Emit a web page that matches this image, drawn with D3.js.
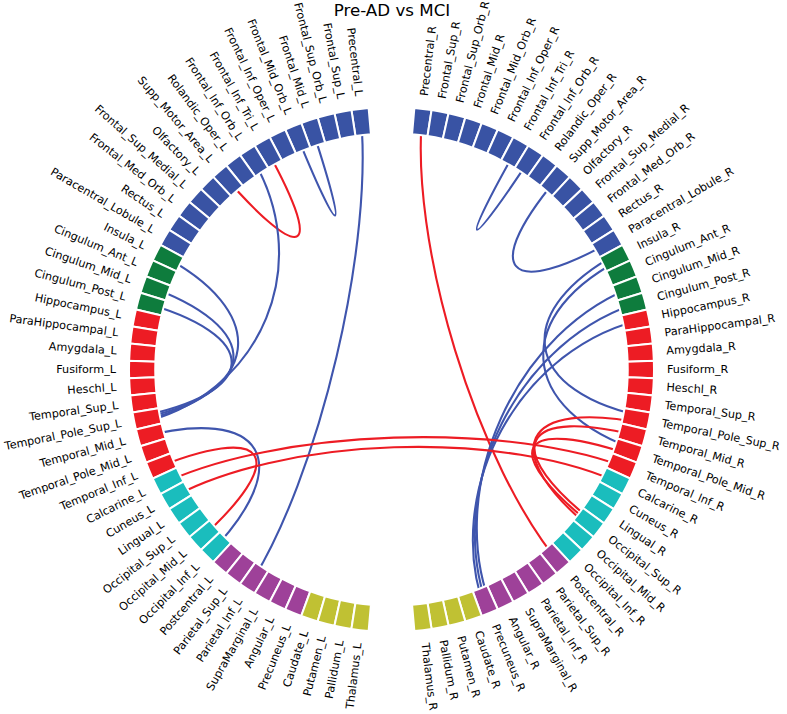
<!DOCTYPE html>
<html><head><meta charset="utf-8">
<script src="https://cdn.jsdelivr.net/npm/d3@7"></script>
<style>
body{margin:0;background:#fff;}
svg text{font-family:"DejaVu Sans",sans-serif;}
</style></head>
<body><svg id="chart" width="787" height="714"></svg>
<script>
// ---------- data ----------
const title = "Pre-AD vs MCI";
const regions = ["Precentral","Frontal_Sup","Frontal_Sup_Orb","Frontal_Mid","Frontal_Mid_Orb",
 "Frontal_Inf_Oper","Frontal_Inf_Tri","Frontal_Inf_Orb","Rolandic_Oper","Supp_Motor_Area",
 "Olfactory","Frontal_Sup_Medial","Frontal_Med_Orb","Rectus","Paracentral_Lobule",
 "Insula","Cingulum_Ant","Cingulum_Mid","Cingulum_Post",
 "Hippocampus","ParaHippocampal","Amygdala","Fusiform","Heschl","Temporal_Sup",
 "Temporal_Pole_Sup","Temporal_Mid","Temporal_Pole_Mid","Temporal_Inf",
 "Calcarine","Cuneus","Lingual","Occipital_Sup","Occipital_Mid","Occipital_Inf",
 "Postcentral","Parietal_Sup","Parietal_Inf","SupraMarginal","Angular","Precuneus",
 "Caudate","Putamen","Pallidum","Thalamus"];
const regionGroups = ["frontal","frontal","frontal","frontal","frontal","frontal","frontal","frontal",
 "frontal","frontal","frontal","frontal","frontal","frontal","frontal",
 "limbic","limbic","limbic","limbic",
 "temporal","temporal","temporal","temporal","temporal","temporal","temporal","temporal","temporal","temporal",
 "occipital","occipital","occipital","occipital","occipital","occipital",
 "parietal","parietal","parietal","parietal","parietal","parietal",
 "subcortical","subcortical","subcortical","subcortical"];
const groupNames = ["frontal","limbic","temporal","occipital","parietal","subcortical"];
const groupColors = ["#3953A4","#0E7C3D","#ED1C24","#1ABDBD","#9E4199","#C0C133"];

// connections (source, target, sign: "+" red, "-" blue)
const linkSource = [
 "Precentral_L","Frontal_Mid_L","Frontal_Inf_Tri_L","Frontal_Inf_Orb_L","Insula_L",
 "Cingulum_Mid_L","Cingulum_Post_L","Temporal_Mid_L","Temporal_Inf_L",
 "Precentral_R","Frontal_Inf_Tri_R","Supp_Motor_Area_R","Insula_R","Insula_R","Cingulum_Mid_R",
 "Cingulum_Post_R","Hippocampus_R","Temporal_Mid_R","Temporal_Pole_Mid_R","Temporal_Pole_Sup_R",
 "Calcarine_L","Cuneus_L"];
const linkTarget = [
 "Parietal_Inf_L","Frontal_Mid_Orb_L","Supp_Motor_Area_L","Temporal_Pole_Sup_L","Temporal_Pole_Sup_L",
 "Temporal_Pole_Sup_L","Temporal_Pole_Sup_L","Occipital_Inf_L","Occipital_Mid_L",
 "Postcentral_R","Frontal_Inf_Orb_R","Paracentral_Lobule_R","Temporal_Pole_Sup_R","Temporal_Pole_Mid_R","Precuneus_R",
 "Precuneus_R","Precuneus_R","Occipital_Sup_R","Occipital_Sup_R","Occipital_Sup_R",
 "Temporal_Inf_R","Calcarine_R"];
const linkSign = ["-","-","+","-","-","-","-","-","+",
 "+","-","-","-","-","-","-","-","+","+","+",
 "+","+"];
const signColors = {"+":"#ED1C24","-":"#3F55AD"};

// ---------- layout ----------
const cx = 391.5, cy = 369.5;
const svg = d3.select("#chart");
const nPer = regions.length;
const nodes = [];
regions.forEach((r,i)=>nodes.push({name:r+"_L", idx:i, hemi:"L", group:regionGroups[i]}));
regions.forEach((r,i)=>nodes.push({name:r+"_R", idx:i, hemi:"R", group:regionGroups[i]}));
const nodeSep = 340/(2*nPer);         // degrees
const idxToDeg = d3.scaleLinear().domain([0, nPer-1]).range([5+nodeSep/2, 5+nodeSep/2+(nPer-1)*nodeSep]);
const rad = d3.scaleLinear().domain([0,10]).range([0,262.5]);
const color = d3.scaleOrdinal().domain(groupNames).range(groupColors);
nodes.forEach(n=>{
  const d = idxToDeg(n.idx);
  n.angle = (n.hemi==="L" ? -d : d) * Math.PI/180;   // clockwise from 12 o'clock
});
const byName = new Map(nodes.map(n=>[n.name,n]));
const wRad = nodeSep*Math.PI/180;

function pt(a, r){ return [cx + rad(r)*Math.sin(a), cy - rad(r)*Math.cos(a)]; }

const g = svg.append("g");

const links = linkSource.map((s,i)=>({s:byName.get(s), t:byName.get(linkTarget[i]), sign:linkSign[i]}));
const count = new Map(), seen = new Map();
links.forEach(l=>{[l.s,l.t].forEach(n=>count.set(n.name,(count.get(n.name)||0)+1));});
function off(n){
  const c = count.get(n.name), k = seen.get(n.name)||0; seen.set(n.name,k+1);
  if(c<2) return 0;
  return (-0.5 + k/(c-1)) * 0.4*wRad;
}
links.forEach(l=>{
  const a0 = l.s.angle + off(l.s), a1 = l.t.angle + off(l.t);
  const p = d3.path();
  const p0 = pt(a0,10), p1 = pt(a0,5), p2 = pt(a1,5), p3 = pt(a1,10);
  p.moveTo(...p0); p.bezierCurveTo(...p1, ...p2, ...p3);
  g.append("path").attr("d", p.toString()).attr("fill","none")
    .attr("stroke", signColors[l.sign]).attr("stroke-width",2.1);
});

const arc = d3.arc().innerRadius(rad(9)).outerRadius(rad(10));
g.selectAll("path.node").data(nodes).join("path").attr("class","node")
  .attr("d", n=>arc({startAngle:n.angle - wRad/2, endAngle:n.angle + wRad/2}))
  .attr("transform",`translate(${cx},${cy})`)
  .attr("fill", n=>color(n.group)).attr("stroke","#fff").attr("stroke-width",2);

const labR = rad(10.4) + 2.5;
g.selectAll("text.lab").data(nodes).join("text").attr("class","lab")
  .attr("transform", n=>{
    const x = cx + labR*Math.sin(n.angle), y = cy - labR*Math.cos(n.angle);
    const deg = n.angle*180/Math.PI;
    const rot = n.hemi==="L" ? deg+90 : deg-90;
    return `translate(${x},${y}) rotate(${rot})`;
  })
  .attr("text-anchor", n=>n.hemi==="L" ? "end" : "start")
  .attr("dy","0.28em")
  .attr("font-size","11.2px").attr("fill","#000")
  .text(n=>n.name);

svg.append("text").attr("x",392).attr("y",15.5).attr("text-anchor","middle")
  .attr("font-size","16.7px").attr("fill","#000").text(title);
</script></body></html>
